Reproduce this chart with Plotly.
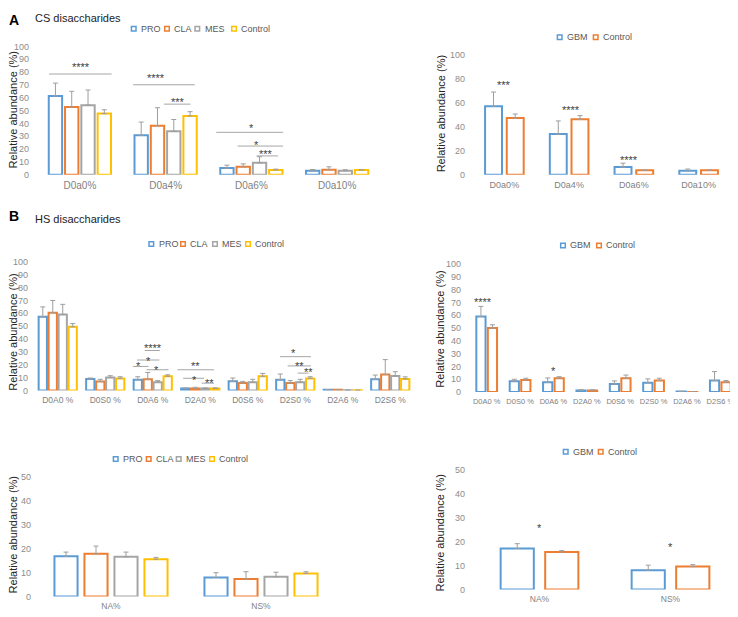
import plotly.graph_objects as go

W, H = 738, 617
# the page body adds an 8px margin, so screen positions are shifted by this much
OFF = 8

# ---------------- data ----------------
# A: CS disaccharides, GBM subtypes
cs_cats = ['D0a0%', 'D0a4%', 'D0a6%', 'D0a10%']
cs_pro = [61.4, 30.7, 5.1, 3.0]
cs_pro_err = [10.0, 10.3, 2.3, 1.0]
cs_cla = [52.7, 38.1, 6.1, 3.8]
cs_cla_err = [12.3, 14.1, 2.3, 2.3]
cs_mes = [54.2, 33.8, 9.2, 3.0]
cs_mes_err = [11.8, 9.2, 4.8, 0.8]
cs_ctrl = [47.6, 45.8, 3.6, 3.6]
cs_ctrl_err = [3.0, 3.3, 0.7, 0.2]

# A: CS disaccharides, GBM vs control
cs_gbm = [57.4, 34.0, 6.3, 3.3]
cs_gbm_err = [11.8, 11.0, 3.3, 1.4]
cs_gbm_ctrl = [47.5, 46.4, 3.6, 3.6]
cs_gbm_ctrl_err = [3.3, 3.1, 0.2, 0.2]

# B: HS disaccharides, GBM subtypes
hs_cats = ['D0A0 %', 'D0S0 %', 'D0A6 %', 'D2A0 %', 'D0S6 %', 'D2S0 %', 'D2A6 %', 'D2S6 %']
hs_pro = [57.4, 9.0, 8.4, 1.5, 7.1, 8.4, 0.5, 8.7]
hs_pro_err = [7.6, 0.7, 2.3, 0.5, 2.6, 4.4, 0.2, 3.3]
hs_cla = [60.5, 7.0, 8.7, 1.5, 5.9, 5.9, 0.5, 12.5]
hs_cla_err = [9.5, 1.7, 5.3, 1.0, 1.2, 1.8, 0.3, 11.5]
hs_mes = [59.0, 10.0, 6.4, 1.5, 6.4, 6.4, 0.2, 11.3]
hs_mes_err = [8.0, 1.5, 1.3, 0.5, 2.3, 2.3, 0.0, 3.3]
hs_ctrl = [49.5, 9.4, 11.0, 1.5, 11.0, 9.4, 0.2, 9.0]
hs_ctrl_err = [2.5, 1.3, 1.2, 0.5, 2.3, 1.3, 0.0, 1.6]

# B: HS disaccharides, GBM vs control
hs_gbm = [59.0, 8.5, 7.7, 1.3, 6.2, 7.2, 0.5, 9.0]
hs_gbm_err = [8.0, 1.5, 3.3, 0.5, 2.5, 3.1, 0.0, 7.0]
hs_gbm_ctrl = [50.0, 9.5, 10.8, 1.3, 10.8, 9.0, 0.1, 7.7]
hs_gbm_ctrl_err = [2.6, 1.3, 1.2, 0.5, 2.5, 1.8, 0.0, 1.3]

# B: NA / NS domains
ns_cats = ['NA%', 'NS%']
ns_pro = [16.8, 7.9]
ns_pro_err = [1.7, 2.0]
ns_cla = [17.8, 7.3]
ns_cla_err = [3.2, 3.0]
ns_mes = [16.6, 8.2]
ns_mes_err = [1.9, 1.9]
ns_ctrl = [15.5, 9.6]
ns_ctrl_err = [0.8, 0.7]
ns_gbm = [17.2, 8.1]
ns_gbm_err = [2.0, 2.1]
ns_gbm_ctrl = [15.7, 9.6]
ns_gbm_ctrl_err = [0.6, 0.8]

# significance brackets: (x0, x1, y, label, label_x, label_y) in category units
cs_sig = [(-0.36, 0.37, 78.5, '****', 0.01, 86.2),
          (0.62, 1.34, 70.1, '****', 0.89, 77.7),
          (0.98, 1.29, 55.0, '***', 1.14, 58.8),
          (1.59, 2.37, 33.0, '*', 2.0, 38.4),
          (1.84, 2.37, 22.3, '*', 2.06, 25.8),
          (2.06, 2.31, 14.6, '***', 2.17, 18.4)]
hs_sig = [(1.83, 2.15, 31.1, '****', 2.01, 35.4),
          (1.67, 2.14, 23.7, '*', 1.90, 25.6),
          (1.58, 1.91, 18.7, '*', 1.71, 21.0),
          (1.87, 2.33, 16.1, '*', 2.08, 17.9),
          (2.52, 3.29, 16.1, '**', 2.91, 21.0),
          (2.64, 3.08, 9.5, '*', 2.87, 10.7),
          (3.03, 3.29, 5.7, '**', 3.19, 8.2),
          (4.68, 5.33, 26.3, '*', 4.96, 31.1),
          (4.84, 5.33, 19.1, '**', 5.08, 21.2),
          (5.05, 5.28, 13.5, '**', 5.27, 16.6)]
# stars without brackets: (label, x, y)
cs_gbm_stars = [('***', 0.0, 77.5), ('****', 1.03, 57.0), ('****', 1.92, 14.8)]
hs_gbm_stars = [('****', -0.11, 72.6), ('*', 2.0, 19.2)]
ns_gbm_stars = [('*', 0.0, 27.0), ('*', 1.0, 19.0)]

BLUE, ORANGE, GREY, GOLD = '#5B9BD5', '#ED7D31', '#A5A5A5', '#FFC000'
ERR = '#9E9E9E'
FONT = 'Liberation Sans, Arial, sans-serif'


def px(x):
    return (x - OFF) / W


def py(y):
    return 1 - (y - OFF) / H


panels = [
    dict(ax='', cats=cs_cats, ymax=100, dtick=10, xdom=(37, 380), ydom=(172.3, 42),
         group=0.76, barfrac=0.82, catsize=10, standoff=7,
         series=[('PRO', cs_pro, cs_pro_err, BLUE), ('CLA', cs_cla, cs_cla_err, ORANGE),
                 ('MES', cs_mes, cs_mes_err, GREY), ('Control', cs_ctrl, cs_ctrl_err, GOLD)],
         legend=([130.7, 164, 194.3, 231], 24), ytitle=(13, 107)),
    dict(ax='2', cats=cs_cats, ymax=100, dtick=20, xdom=(472, 731), ydom=(172.3, 51),
         group=0.67, barfrac=0.78, catsize=9, standoff=6,
         series=[('GBM', cs_gbm, cs_gbm_err, BLUE), ('Control', cs_gbm_ctrl, cs_gbm_ctrl_err, ORANGE)],
         legend=([556.7, 592.7], 32.7), ytitle=(441, 111)),
    dict(ax='3', cats=hs_cats, ymax=100, dtick=10, xdom=(34, 414), ydom=(391.7, 261),
         group=0.84, barfrac=0.83, catsize=8.5, standoff=5,
         series=[('PRO', hs_pro, hs_pro_err, BLUE), ('CLA', hs_cla, hs_cla_err, ORANGE),
                 ('MES', hs_mes, hs_mes_err, GREY), ('Control', hs_ctrl, hs_ctrl_err, GOLD)],
         legend=([148.3, 180, 212, 245], 242.7), ytitle=(13, 333)),
    dict(ax='4', cats=hs_cats, ymax=100, dtick=10, xdom=(470, 737), ydom=(393.3, 263.3),
         group=0.69, barfrac=0.8, catsize=7.5, standoff=8,
         series=[('GBM', hs_gbm, hs_gbm_err, BLUE), ('Control', hs_gbm_ctrl, hs_gbm_ctrl_err, ORANGE)],
         legend=([560, 596], 244.3), ytitle=(440, 330)),
    dict(ax='5', cats=ns_cats, ymax=50, dtick=10, xdom=(36, 336), ydom=(601, 479.3),
         group=0.8, barfrac=0.77, catsize=8.5, standoff=4,
         series=[('PRO', ns_pro, ns_pro_err, BLUE), ('CLA', ns_cla, ns_cla_err, ORANGE),
                 ('MES', ns_mes, ns_mes_err, GREY), ('Control', ns_ctrl, ns_ctrl_err, GOLD)],
         legend=([112.7, 145.7, 175.7, 209], 461.3), ytitle=(13, 539)),
    dict(ax='6', cats=ns_cats, ymax=50, dtick=10, xdom=(474, 736), ydom=(594, 472.7),
         group=0.68, barfrac=0.745, catsize=8.5, standoff=8,
         series=[('GBM', ns_gbm, ns_gbm_err, BLUE), ('Control', ns_gbm_ctrl, ns_gbm_ctrl_err, ORANGE)],
         legend=([562.7, 597.7], 454), ytitle=(440, 537)),
]

fig = go.Figure()
shapes = []
annotations = []
layout_axes = {}

for p in panels:
    ax = p['ax']
    n = len(p['series'])
    slot = p['group'] / n
    bw = slot * p['barfrac']
    for i, (name, vals, errs, color) in enumerate(p['series']):
        fig.add_trace(go.Bar(
            x=p['cats'], y=vals, name=name,
            width=bw, offset=-p['group'] / 2 + i * slot + (slot - bw) / 2,
            marker=dict(color='white', line=dict(color=color, width=2)),
            error_y=dict(type='data', symmetric=False, array=errs, arrayminus=[0] * len(errs),
                         color=ERR, thickness=1, width=2.5),
            xaxis='x' + ax, yaxis='y' + ax, showlegend=False,
        ))

    layout_axes['xaxis' + ax] = dict(
        domain=[px(p['xdom'][0]), px(p['xdom'][1])], anchor='y' + ax,
        type='category', range=[-0.5, len(p['cats']) - 0.5],
        showline=False, showgrid=False, zeroline=False, ticks='', tickangle=0,
        ticklabelstandoff=3,
        tickfont=dict(family=FONT, size=p['catsize'], color='#7F7F7F'))
    layout_axes['yaxis' + ax] = dict(
        domain=[py(p['ydom'][0]), py(p['ydom'][1])], anchor='x' + ax,
        range=[0, p['ymax']], dtick=p['dtick'], showline=False, showgrid=False,
        zeroline=False, ticks='', ticklabelstandoff=p['standoff'],
        tickfont=dict(family=FONT, size=9, color='#8C8C8C'))

    # legend built from small squares and text
    xs, ly = p['legend']
    for sx, (name, _, _, color) in zip(xs, p['series']):
        shapes.append(dict(type='rect', xref='paper', yref='paper',
                           x0=px(sx + 0.7), x1=px(sx + 5.3), y0=py(ly + 2.3), y1=py(ly - 2.3),
                           line=dict(color=color, width=1.5), fillcolor='white'))
        annotations.append(dict(text=name, xref='paper', yref='paper', x=px(sx + 8.3), y=py(ly),
                                xanchor='left', yanchor='middle', showarrow=False,
                                font=dict(family=FONT, size=9, color='#595959')))

    tx, ty = p['ytitle']
    annotations.append(dict(text='Relative abundance (%)', xref='paper', yref='paper',
                            x=px(tx), y=py(ty), textangle=-90, showarrow=False,
                            xanchor='center', yanchor='middle',
                            font=dict(family=FONT, size=11, color='#262626')))


def add_star(label, x, y, ax):
    annotations.append(dict(text=label, x=x, y=y, xref='x' + ax, yref='y' + ax,
                            showarrow=False, xanchor='center', yanchor='middle', yshift=-3,
                            font=dict(family=FONT, size=11, color='#404040')))


for ax, sig in [('', cs_sig), ('3', hs_sig)]:
    for x0, x1, y, label, lx, ly in sig:
        shapes.append(dict(type='line', xref='x' + ax, yref='y' + ax, x0=x0, x1=x1, y0=y, y1=y,
                           line=dict(color='#A6A6A6', width=1)))
        add_star(label, lx, ly, ax)

for ax, stars in [('2', cs_gbm_stars), ('4', hs_gbm_stars), ('6', ns_gbm_stars)]:
    for label, x, y in stars:
        add_star(label, x, y, ax)

# panel letters and headings
for letter, lx, ly, title, tx, ty in [('A', 14, 15, 'CS disaccharides', 33, 13),
                                      ('B', 14, 214.5, 'HS disaccharides', 32.7, 217)]:
    annotations.append(dict(text='<b>' + letter + '</b>', xref='paper', yref='paper',
                            x=px(lx), y=py(ly), xanchor='center', yanchor='middle', showarrow=False,
                            font=dict(family=FONT, size=14, color='black')))
    annotations.append(dict(text=title, xref='paper', yref='paper', x=px(tx), y=py(ty),
                            xanchor='left', yanchor='middle', showarrow=False,
                            font=dict(family=FONT, size=11, color='#222222')))

fig.update_layout(
    width=W, height=H,
    margin=dict(l=0, r=0, t=0, b=0),
    paper_bgcolor='white', plot_bgcolor='white',
    barmode='group',
    shapes=shapes, annotations=annotations,
    **layout_axes,
)

fig.write_html("out.html")
